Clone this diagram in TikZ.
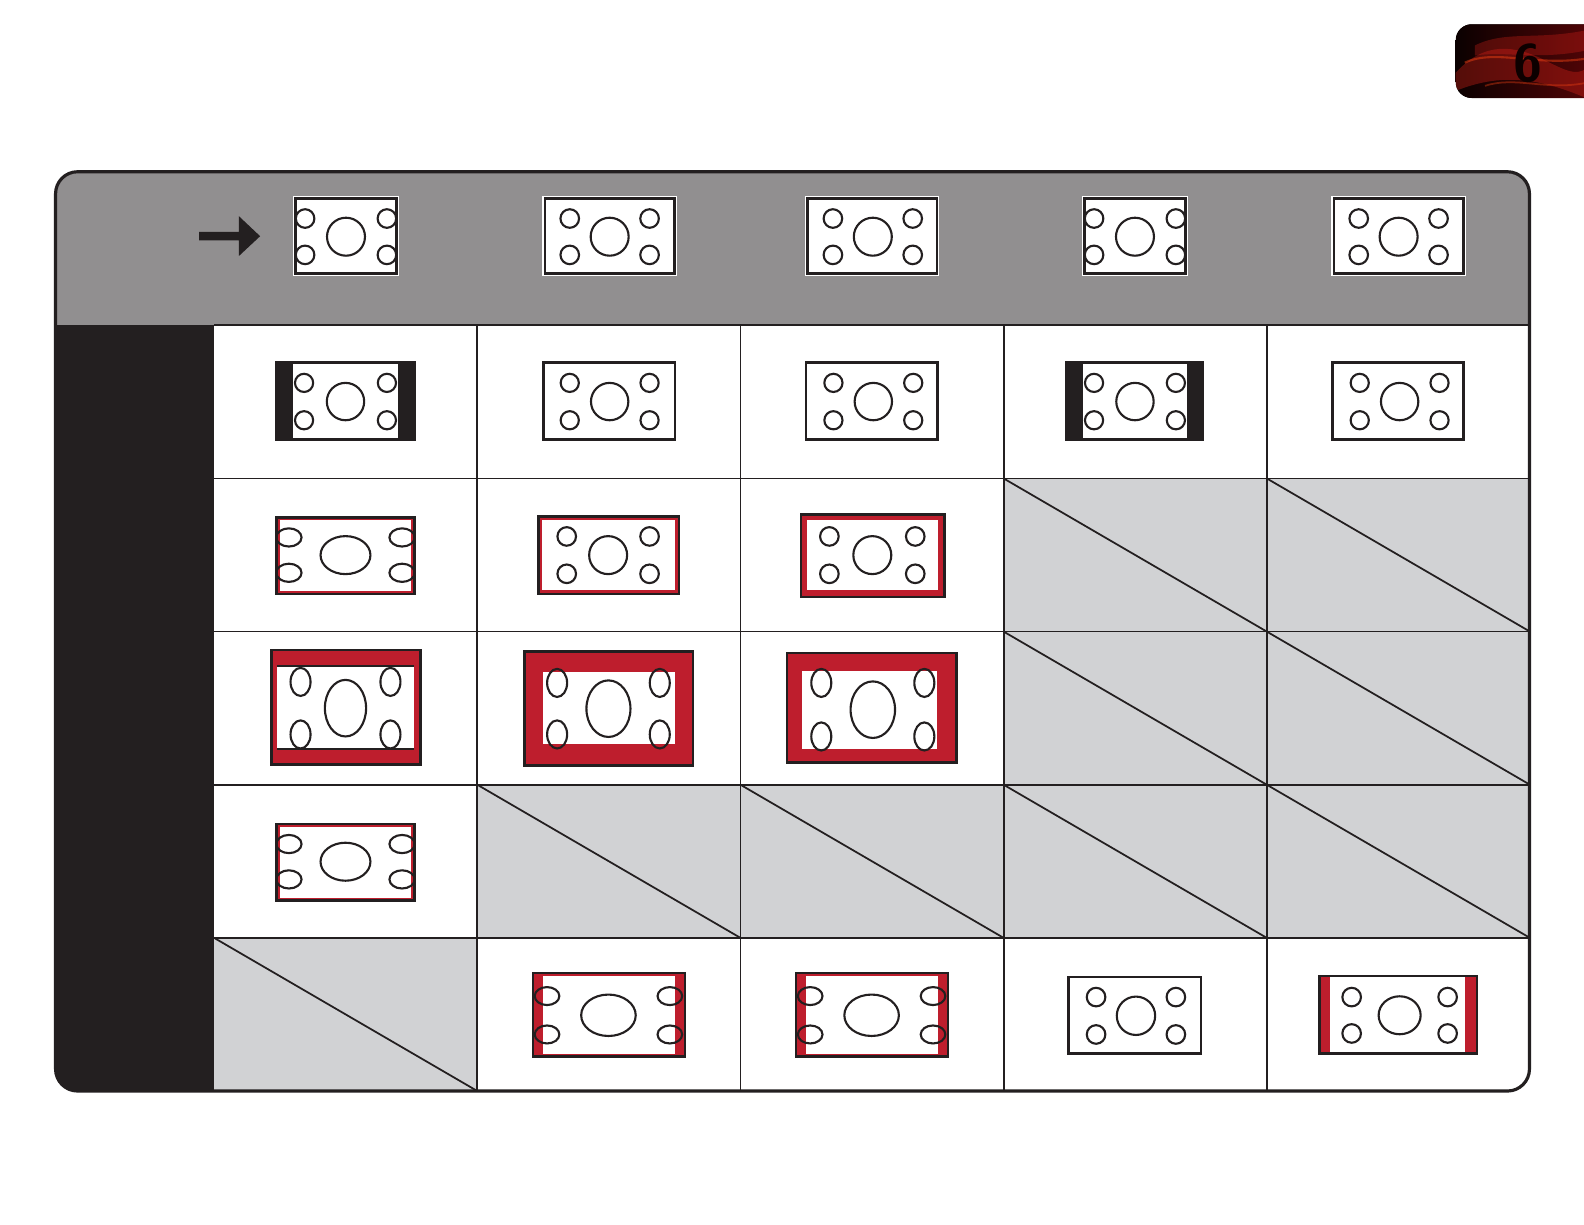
\documentclass[tikz,border=0pt]{standalone}
\usepackage{tikz}
\usetikzlibrary{calc}
\definecolor{aspRojo}{HTML}{BE1E2D}
\definecolor{aspGris}{HTML}{918F90}
\definecolor{aspOscuro}{HTML}{231F20}
\definecolor{aspCelda}{HTML}{D1D2D4}
\definecolor{aspVino}{HTML}{6A0608}
\definecolor{aspHumo}{HTML}{E0241A}
\usetikzlibrary{positioning,arrows.meta,shapes.geometric,fit,backgrounds}

\newcommand{\aspHoles}[8]{%
  \foreach \sx in {-1,1}{\foreach \sy in {-1,1}{%
    \draw[hueco] ({#1+\sx*#3},{#2+\sy*#4}) ellipse [x radius=#5, y radius=#6];}}%
  \draw[hueco] (#1,#2) ellipse [x radius=#7, y radius=#8];}

\begin{document}
\begin{tikzpicture}[x=0.010102cm, y=-0.010102cm,
    marco/.style={draw=aspOscuro, line width=0.75pt},
    hueco/.style={draw=aspOscuro, line width=0.6pt},
    rejilla/.style={draw=aspOscuro, line width=0.5pt}]
  \useasboundingbox (0,0) rectangle (1568,1212);

  % logo
  \begin{scope}
    \clip (0,0) rectangle (1568,1212);
    \clip[rounded corners=0.16cm] (1441,24) rectangle (1620,97);
    \fill[left color=black!90!aspVino, right color=aspVino] (1441,24) rectangle (1620,97);
    \fill[aspHumo, opacity=0.35] (1441,72) .. controls (1470,40) and (1500,45) .. (1530,60)
      .. controls (1550,70) and (1560,75) .. (1570,68) -- (1570,97) .. controls (1530,80) and (1490,70) .. (1441,90) -- cycle;
    \fill[aspHumo, opacity=0.3] (1460,45) .. controls (1490,30) and (1520,40) .. (1570,30)
      -- (1570,50) .. controls (1520,60) and (1490,50) .. (1460,55) -- cycle;
    \draw[aspHumo!70!orange, line width=0.6pt, opacity=0.5] (1450,62) .. controls (1480,48) and (1520,66) .. (1570,58);
    \draw[aspHumo!70!orange, line width=0.5pt, opacity=0.4] (1470,85) .. controls (1500,75) and (1530,90) .. (1570,82);
    \node[font=\fontsize{15}{15}\selectfont\bfseries\sffamily, text=black!95!red] (seis) at (1513,63) {6};
  \end{scope}

  % tabla
  \begin{scope}
    \clip[rounded corners=0.22cm] (55,170) rectangle (1514,1080);
    \fill[aspGris] (55,170) rectangle (1514,322);
    \fill[aspOscuro] (55,322) rectangle (212,1080);
    \fill[white] (212,322) rectangle (1514,1080);
    \foreach \c/\r in {4/2,5/2,4/3,5/3,2/4,3/4,4/4,5/4,1/5}{
      \fill[aspCelda] ({212+(\c-1)*260.5},{322+(\r-1)*151.6}) rectangle ++(260.5,151.6);
      \draw[rejilla] ({212+(\c-1)*260.5},{322+(\r-1)*151.6}) -- ++(260.5,151.6);
    }
  \end{scope}
  \foreach \c in {1,...,4}
    \draw[rejilla] ({212+\c*260.5},322) -- ({212+\c*260.5},1080);
  \foreach \r in {0,...,4}
    \draw[rejilla] (212,{322+\r*151.6}) -- (1514,{322+\r*151.6});
  \draw[aspOscuro, line width=0.9pt, rounded corners=0.22cm] (55,170) rectangle (1514,1080);

  % cabecera
  \fill[aspOscuro] (197,229.5) -- (236.5,229.5) -- (236.5,214) -- (257.5,233.8)
    -- (236.5,253.4) -- (236.5,238) -- (197,238) -- cycle;
  \foreach \a/\b/\cx/\dx in {290/395/342.5/40.5, 537/670/603.5/39.5, 797/930/864/39.5,
      1071/1176/1123.5/40.5, 1318/1451/1384.5/39.5}{
    \fill[white] (\a,194) rectangle (\b,273);
    \draw[marco] (\a+2.5,196.5) rectangle (\b-2.5,270.5);
    \aspHoles{\cx}{234.3}{\dx}{18}{9.2}{9.2}{18.8}{18.8}
  }

  % fila 1
  \foreach \a/\b in {274/410, 1056/1191}{
    \fill[aspOscuro] (\a,359) rectangle (\a+16,435);
    \fill[aspOscuro] (\b-16,359) rectangle (\b,435);
    \draw[marco] (\a,359) rectangle (\b,435);
  }
  \foreach \a/\b in {538/668, 798/928, 1319/1449}
    \draw[marco] (\a,359) rectangle (\b,435);
  \foreach \cx/\dx in {342/41, 603.5/39.5, 864.5/39.5, 1123.5/40.5, 1385.5/39.5}{
    \aspHoles{\cx}{397.5}{\dx}{18.5}{9}{9}{18.5}{18.5}
  }

  % fila 2 y 4
  \foreach \y in {0,303.5}{
    \fill[aspRojo] (274,512+\y) rectangle (410,588+\y);
    \fill[white] (277,515+\y) rectangle (407,585+\y);
    \aspHoles{342}{549.5+\y}{56}{17.5}{12.5}{9}{24.7}{18.8}
    \draw[marco] (274,512+\y) rectangle (410,588+\y);
  }
  \fill[aspRojo] (533,511.5) rectangle (672,588);
  \fill[white] (536.5,515) rectangle (668.5,584.5);
  \aspHoles{602}{549.5}{41}{18.5}{9.2}{9.2}{18.8}{18.8}
  \draw[marco] (533,511.5) rectangle (672,588);
  \fill[aspRojo] (793,509) rectangle (935,591);
  \fill[white] (799,515) rectangle (929,584);
  \aspHoles{863.5}{549.5}{42.5}{18.5}{9.2}{9.2}{18.8}{18.8}
  \draw[marco] (793,509) rectangle (935,591);

  % fila 3
  \fill[aspRojo] (269,643.5) rectangle (416,757);
  \fill[white] (274.5,659) rectangle (410,741);
  \draw[aspOscuro, line width=0.6pt] (274.5,659) -- (410,659) (274.5,741) -- (410,741);
  \aspHoles{342}{701}{44.5}{26}{9.9}{13.9}{20.4}{28}
  \draw[marco] (269,643.5) rectangle (416,757);
  \fill[aspRojo] (519,645) rectangle (686,758);
  \fill[white] (538,665) rectangle (668,736);
  \aspHoles{602.3}{701.5}{50.8}{25.5}{9.9}{13.9}{21.8}{28}
  \draw[marco] (519,645) rectangle (686,758);
  \fill[aspRojo] (779,646.5) rectangle (947,755);
  \fill[white] (794,664) rectangle (928,741);
  \aspHoles{864}{702.5}{51}{26.5}{9.9}{13.9}{22}{28}
  \draw[marco] (779,646.5) rectangle (947,755);

  % fila 5
  \foreach \x in {0,260.5}{
    \fill[aspRojo] (527.5+\x,963) rectangle (678+\x,1046);
    \fill[white] (537.5+\x,966) rectangle (668+\x,1043);
    \aspHoles{602.3+\x}{1005}{60.8}{19}{12.2}{8.9}{27}{20.5}
    \draw[marco] (527.5+\x,963) rectangle (678+\x,1046);
  }
  \draw[marco] (1058,967) rectangle (1189,1043);
  \aspHoles{1124.5}{1005.5}{39.5}{18.5}{9.2}{9.2}{19}{19}
  \fill[aspRojo] (1306,966) rectangle (1462,1043);
  \fill[white] (1317,967.5) rectangle (1450.5,1041.5);
  \aspHoles{1385.5}{1005}{47.5}{18}{9.2}{9.2}{20.8}{18.8}
  \draw[marco] (1306,966) rectangle (1462,1043);
\end{tikzpicture}
\end{document}
